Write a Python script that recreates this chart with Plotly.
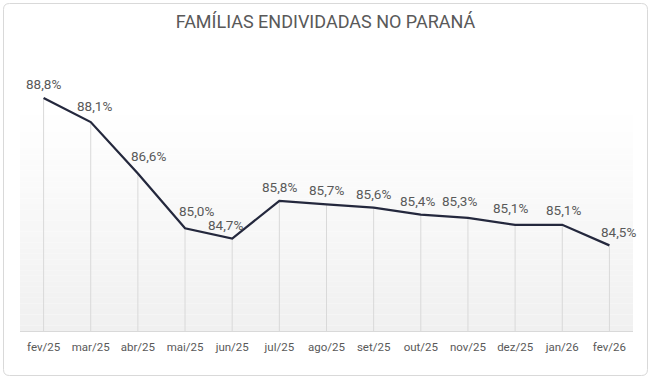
import plotly.graph_objects as go

categories = ["fev/25", "mar/25", "abr/25", "mai/25", "jun/25", "jul/25", "ago/25",
              "set/25", "out/25", "nov/25", "dez/25", "jan/26", "fev/26"]
values = [88.8, 88.1, 86.6, 85.0, 84.7, 85.8, 85.7, 85.6, 85.4, 85.3, 85.1, 85.1, 84.5]
title_text = "FAMÍLIAS ENDIVIDADAS NO PARANÁ"

# style: label offsets (px) as Excel auto-placed them
label_dx = [0, 4, 11, 11, -7, 0, 0, 0, -3, -8, -5, 1, 9]
label_dy = [14, 16, 17, 17, 14, 14, 14, 14, 14, 17, 17, 15, 13]
Y_MIN, Y_MAX = 82, 90

W, H = 651, 378
ML, MR, MT, MB = 20, 18, 57, 47
pw, ph = W - ML - MR, H - MT - MB

def px_x(p):
    return (p - ML) / pw

def px_y(p):
    return (H - MB - p) / ph

xs = list(range(len(categories)))

fig = go.Figure()

# drop lines
dx, dy = [], []
for i, v in zip(xs, values):
    dx += [i, i, None]
    dy += [Y_MIN, v, None]
fig.add_trace(go.Scatter(x=dx, y=dy, mode="lines",
                         line=dict(color="#d9d9d9", width=1), hoverinfo="skip", showlegend=False))

fig.add_trace(go.Scatter(x=xs, y=values, mode="lines",
                         line=dict(color="#24283d", width=2.25), showlegend=False))

fmt = [f"{v:.1f}%".replace(".", ",") for v in values]
for i, v, t, ddx, ddy in zip(xs, values, fmt, label_dx, label_dy):
    fig.add_annotation(x=i, y=v, text=t, showarrow=False, xshift=ddx, yshift=ddy,
                       font=dict(family="Roboto", size=13.5, color="#595959"))

# gradient background within plot area
shapes = []
n = 40
top_px, bot_px = 110, 331
for k in range(n):
    y0p = top_px + (bot_px - top_px) * k / n
    y1p = top_px + (bot_px - top_px) * (k + 1) / n
    t = (k + 0.5) / n
    c = int(round(255 - 15 * t))
    shapes.append(dict(type="rect", xref="paper", yref="paper",
                       x0=0, x1=1, y0=px_y(y1p), y1=px_y(y0p),
                       fillcolor=f"rgb({c},{c},{c})", line=dict(width=0), layer="below"))

# rounded border
x0, x1 = px_x(3.5), px_x(647.5)
y0, y1 = px_y(375.5), px_y(3.5)
rx, ry = 6 / pw, 6 / ph
path = (f"M {x0+rx},{y1} L {x1-rx},{y1} Q {x1},{y1} {x1},{y1-ry} "
        f"L {x1},{y0+ry} Q {x1},{y0} {x1-rx},{y0} L {x0+rx},{y0} "
        f"Q {x0},{y0} {x0},{y0+ry} L {x0},{y1-ry} Q {x0},{y1} {x0+rx},{y1} Z")
shapes.append(dict(type="path", xref="paper", yref="paper", path=path,
                   line=dict(color="#d9d9d9", width=1), fillcolor="rgba(0,0,0,0)", layer="above"))

fig.update_layout(
    width=W, height=H,
    margin=dict(l=ML, r=MR, t=MT, b=MB),
    paper_bgcolor="white", plot_bgcolor="rgba(0,0,0,0)",
    title=dict(text=title_text, x=0.5, xanchor="center", y=1 - 22 / H, yanchor="middle",
               font=dict(family="Roboto", size=18, color="#595959")),
    shapes=shapes,
    xaxis=dict(range=[-0.5, len(categories) - 0.5], tickmode="array", tickvals=xs,
               ticktext=categories, showgrid=False, zeroline=False,
               showline=True, linecolor="#d9d9d9", linewidth=1, ticks="",
               tickfont=dict(family="Roboto", size=11.5, color="#595959"), ticklabelstandoff=5),
    yaxis=dict(range=[Y_MIN, Y_MAX], visible=False, showgrid=False, zeroline=False),
)

fig.write_html("out.html", config={"displayModeBar": False},
               post_script="document.body.style.margin='0';document.body.style.padding='0';"
                           "document.body.style.overflow='hidden';")
